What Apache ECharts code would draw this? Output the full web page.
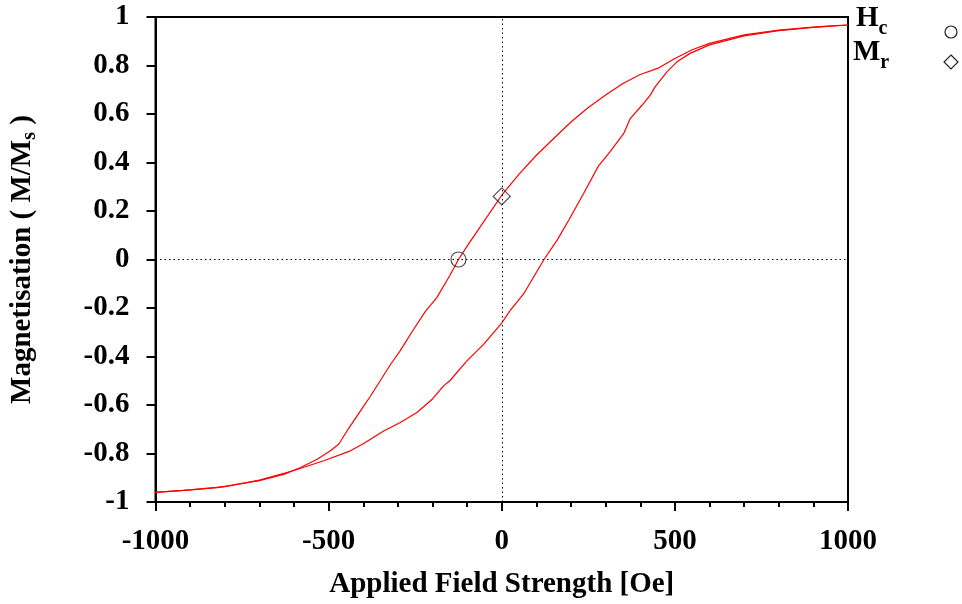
<!DOCTYPE html>
<html>
<head>
<meta charset="utf-8">
<script src="https://cdn.jsdelivr.net/npm/echarts@6/dist/echarts.min.js"></script>
<style>html,body{margin:0;padding:0;background:#fff;}#c{width:962px;height:604px;}</style>
</head>
<body>
<div id="c"></div>
<script>
// Descending branch (from +1000 Oe down to -1000 Oe)
var upperX = [1000, 950, 900, 800, 700, 600, 550, 500, 450, 400, 350, 300, 250, 200, 150, 100, 50, 0, -50, -100, -125, -150, -187, -221, -260, -293, -320, -351, -380, -408, -447, -471, -495, -533, -581, -630, -700, -822, -918, -1000];
var upperM = [0.967, 0.963, 0.958, 0.946, 0.926, 0.891, 0.865, 0.829, 0.788, 0.763, 0.726, 0.678, 0.627, 0.567, 0.499, 0.43, 0.352, 0.265, 0.16, 0.055, 0.0, -0.066, -0.156, -0.215, -0.30, -0.376, -0.43, -0.5, -0.565, -0.624, -0.707, -0.762, -0.789, -0.824, -0.858, -0.886, -0.912, -0.941, -0.952, -0.96];
// Ascending branch (from -1000 Oe up to +1000 Oe)
var lowerX = [-1000, -900, -800, -700, -600, -514, -437, -400, -341, -293, -245, -200, -168, -150, -100, -52, 0, 24, 63, 122, 160, 193, 236, 279, 313, 352, 371, 405, 429, 443, 477, 506, 544, 600, 700, 800, 900, 1000];
var lowerM = [-0.96, -0.95, -0.937, -0.91, -0.87, -0.83, -0.789, -0.76, -0.707, -0.672, -0.631, -0.575, -0.521, -0.50, -0.417, -0.349, -0.262, -0.211, -0.142, 0.0, 0.08, 0.161, 0.271, 0.385, 0.445, 0.519, 0.581, 0.636, 0.678, 0.712, 0.774, 0.815, 0.85, 0.885, 0.922, 0.944, 0.957, 0.967];
// Coercivity and remanence points
var hcPoint = [-125, 0];
var mrPoint = [0, 0.26];
// Axis ticks
var xTicks = [-1000, -500, 0, 500, 1000];
var yTicks = [-1, -0.8, -0.6, -0.4, -0.2, 0, 0.2, 0.4, 0.6, 0.8, 1];

function pairs(xs, ys) { return xs.map(function (x, i) { return [x, ys[i]]; }); }

var X_MIN = xTicks[0], X_MAX = xTicks[xTicks.length - 1];
var Y_MIN = yTicks[0], Y_MAX = yTicks[yTicks.length - 1];
var FONT = '"Liberation Serif", "Times New Roman", serif';
var chart = echarts.init(document.getElementById('c'));

chart.setOption({
  animation: false,
  grid: {left: 155, right: 114, top: 17, bottom: 102,
    show: true, borderColor: '#000', borderWidth: 2},
  xAxis: {
    type: 'value', min: X_MIN, max: X_MAX, interval: 500,
    name: 'Applied Field Strength [Oe]', nameLocation: 'middle', nameGap: 68,
    nameTextStyle: {fontFamily: FONT, fontWeight: 'bold', fontSize: 29, color: '#000'},
    axisLine: {show: true, onZero: false, lineStyle: {color: '#000', width: 2}},
    axisTick: {show: true, length: 9, lineStyle: {color: '#000', width: 2}},
    minorTick: {show: true, splitNumber: 5, length: 5, lineStyle: {color: '#000', width: 2}},
    axisLabel: {fontFamily: FONT, fontWeight: 'bold', fontSize: 29, color: '#000', margin: 25,
      formatter: function (v) { return String(v); }},
    splitLine: {show: false}
  },
  yAxis: {
    type: 'value', min: Y_MIN, max: Y_MAX, interval: 0.2,
    name: '{m|Magnetisation ( M/M}{s|s}{m| )}', nameLocation: 'middle', nameGap: 116,
    nameTextStyle: {
      rich: {
        m: {fontFamily: FONT, fontWeight: 'bold', fontSize: 29, color: '#000', lineHeight: 34},
        s: {fontFamily: FONT, fontWeight: 'bold', fontSize: 20, color: '#000', lineHeight: 20, verticalAlign: 'bottom'}
      }
    },
    axisLine: {show: true, onZero: false, lineStyle: {color: '#000', width: 2}},
    axisTick: {show: true, length: 9, lineStyle: {color: '#000', width: 2}},
    axisLabel: {fontFamily: FONT, fontWeight: 'bold', fontSize: 29, color: '#000', margin: 26,
      formatter: function (v) { return String(Math.round(v * 10) / 10); }},
    splitLine: {show: false}
  },
  series: [{
    type: 'line', name: 'descending', data: pairs(upperX, upperM),
    showSymbol: false, symbol: 'none',
    lineStyle: {color: '#ff0000', width: 1.2},
    markLine: {
      silent: true, symbol: 'none', label: {show: false},
      lineStyle: {color: '#000', width: 1, type: [1.5, 3]},
      data: [{xAxis: 0}, {yAxis: 0}]
    },
    z: 3
  }, {
    type: 'line', name: 'ascending', data: pairs(lowerX, lowerM),
    showSymbol: false, symbol: 'none',
    lineStyle: {color: '#ff0000', width: 1.2}, z: 3
  }, {
    type: 'scatter', name: 'Hc', data: [hcPoint], symbol: 'circle', symbolSize: 15,
    itemStyle: {color: 'rgba(0,0,0,0)', borderColor: '#222', borderWidth: 1.2}, z: 5
  }, {
    type: 'scatter', name: 'Mr', data: [mrPoint], symbol: 'diamond', symbolSize: 17,
    itemStyle: {color: 'rgba(0,0,0,0)', borderColor: '#222', borderWidth: 1.2}, z: 5
  }],
  graphic: [{
    type: 'text', left: 856, top: 4,
    style: {
      text: '{m|H}{c|c}',
      rich: {
        m: {fontFamily: FONT, fontWeight: 'bold', fontSize: 29, fill: '#000', lineHeight: 40},
        c: {fontFamily: FONT, fontWeight: 'bold', fontSize: 20, fill: '#000', lineHeight: 20, verticalAlign: 'bottom'}
      }
    }
  }, {
    type: 'text', left: 853, top: 38,
    style: {
      text: '{m|M}{c|r}',
      rich: {
        m: {fontFamily: FONT, fontWeight: 'bold', fontSize: 29, fill: '#000', lineHeight: 40},
        c: {fontFamily: FONT, fontWeight: 'bold', fontSize: 20, fill: '#000', lineHeight: 20, verticalAlign: 'bottom'}
      }
    }
  }, {
    type: 'circle', shape: {cx: 951, cy: 32, r: 6},
    style: {fill: 'none', stroke: '#222', lineWidth: 1.2}
  }, {
    type: 'polygon', shape: {points: [[951, 55], [958, 62], [951, 69], [944, 62]]},
    style: {fill: 'none', stroke: '#222', lineWidth: 1.2}
  }]
});
</script>
</body>
</html>
